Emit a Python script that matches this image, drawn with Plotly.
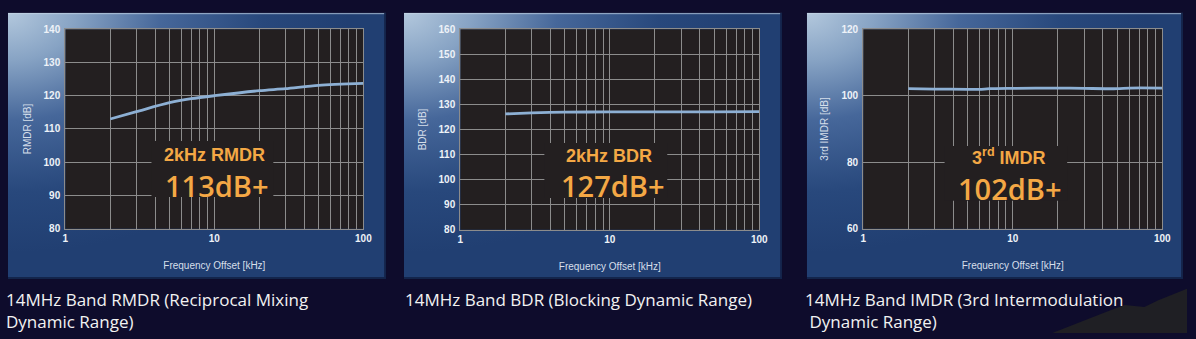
import base64
import plotly.graph_objects as go

W, H = 1196, 339

# ---------------- data ----------------
freq_rmdr = [2, 3, 5, 7, 10, 20, 30, 50, 100]
rmdr_db = [113.0, 115.2, 117.9, 119.1, 120.0, 121.5, 122.1, 123.1, 123.7]

freq_bdr = [2, 3, 5, 10, 20, 50, 100]
bdr_db = [126.2, 126.6, 126.9, 127.0, 127.0, 127.0, 127.1]

freq_imdr = [2, 3, 5, 6, 7, 10, 20, 30, 50, 60, 100]
imdr_db = [102.1, 102.0, 101.9, 101.9, 102.1, 102.2, 102.3, 102.2, 102.1, 102.3, 102.3]

y_titles = ["RMDR [dB]", "BDR [dB]", "3rd IMDR [dB]"]
x_title = "Frequency Offset [kHz]"
y_ranges = [[80, 140], [80, 160], [60, 120]]
y_dticks = [10, 10, 20]
badge_top = ["2kHz RMDR", "2kHz BDR", "3<sup>rd</sup> IMDR"]
badge_big = ["113dB+", "127dB+", "102dB+"]
captions = [
    "14MHz Band RMDR (Reciprocal Mixing<br>Dynamic Range)",
    "14MHz Band BDR (Blocking Dynamic Range)",
    "14MHz Band IMDR (3rd Intermodulation<br> Dynamic Range)",
]
x_tickvals = [1, 10, 100]
x_minor = [2, 3, 4, 5, 6, 7, 8, 9, 20, 30, 40, 50, 60, 70, 80, 90]

# ---------------- layout geometry (pixels) ----------------
plots_px = [(63, 364, 24, 231), (462, 764, 24, 232), (869, 1171, 24, 231)]
cards_px = [(5, 387, 7, 283), (405, 787, 7, 283), (812, 1192, 7, 283)]
boxes_dom = [(0.289, 0.698, 0.159, 0.44), (0.281, 0.692, 0.159, 0.433), (0.272, 0.682, 0.14, 0.415)]
badge_px = [((214, 154), (216, 186)), ((612, 155), (616, 186)), ((1016, 156), (1017, 189))]
caption_px = [(1, 290), (404, 290), (808, 290)]


def px(x):
    return x / W


def py(y):
    return 1 - y / H


GRID = "#8c8c8c"
LINE = "#8db0d4"
PLOTBG = "#231f20"
ORANGE = "#f4a845"

card_svg = """<svg xmlns='http://www.w3.org/2000/svg' width='382' height='276' viewBox='0 0 382 276' preserveAspectRatio='none'>
<defs>
<radialGradient id='g' cx='0' cy='0' r='0.9' gradientUnits='objectBoundingBox'>
<stop offset='0' stop-color='#b3c8dd'/>
<stop offset='0.2' stop-color='#87a3c4'/>
<stop offset='0.45' stop-color='#46679a'/>
<stop offset='0.75' stop-color='#28487c'/>
<stop offset='1' stop-color='#213f72'/>
</radialGradient>
</defs>
<rect x='0' y='0' width='382' height='276' fill='url(#g)'/>
<rect x='0' y='0' width='382' height='1.5' fill='#c8d8e8' fill-opacity='0.6'/>
<rect x='380' y='0' width='2' height='276' fill='#14244a'/>
<rect x='0' y='274' width='382' height='2' fill='#14244a'/>
</svg>"""
card_uri = "data:image/svg+xml;base64," + base64.b64encode(card_svg.encode()).decode()

fig = go.Figure()

series = [(freq_rmdr, rmdr_db), (freq_bdr, bdr_db), (freq_imdr, imdr_db)]
images = []
shapes = []
annotations = []

for i, (xs, ys) in enumerate(series):
    n = "" if i == 0 else str(i + 1)
    fig.add_trace(go.Scatter(
        x=xs, y=ys, mode="lines", xaxis="x" + n, yaxis="y" + n,
        line=dict(color=LINE, width=2.8, shape="spline", smoothing=0.8),
        hoverinfo="x+y", showlegend=False,
    ))
    x0, x1, y0, y1 = plots_px[i]
    axis_common = dict(showgrid=True, gridcolor=GRID, gridwidth=1.3,
                       showline=True, linecolor=GRID, linewidth=1.3, mirror=True,
                       zeroline=False, ticks="", fixedrange=True)
    fig.update_layout(**{
        "xaxis" + n: dict(
            type="log", range=[0, 2], domain=[px(x0), px(x1)],
            anchor="y" + n, tickvals=x_tickvals, ticktext=["1", "10", "100"],
            minor=dict(tickvals=x_minor, showgrid=True, gridcolor=GRID, gridwidth=1.3, ticks=""),
            tickfont=dict(family="Liberation Sans", size=10, color="#eef2f8", weight="bold"),
            title=dict(text=x_title, standoff=19,
                       font=dict(family="Liberation Sans", size=10, color="#d6dfea")),
            **axis_common),
        "yaxis" + n: dict(
            range=y_ranges[i], dtick=y_dticks[i], domain=[py(y1), py(y0)],
            anchor="x" + n, ticklabelstandoff=2,
            tickfont=dict(family="Liberation Sans", size=10, color="#eef2f8", weight="bold"),
            title=dict(text=y_titles[i], standoff=10,
                       font=dict(family="Liberation Sans", size=10, color="#d6dfea")),
            **axis_common),
    })
    cx0, cx1, cy0, cy1 = cards_px[i]
    images.append(dict(source=card_uri, xref="paper", yref="paper",
                       x=px(cx0), y=py(cy0), sizex=px(cx1) - px(cx0), sizey=py(cy0) - py(cy1),
                       xanchor="left", yanchor="top", sizing="stretch", layer="below"))
    # plot area background (drawn above the card image)
    shapes.append(dict(type="rect", xref="x" + n + " domain", yref="y" + n + " domain",
                       x0=0, x1=1, y0=0, y1=1, fillcolor=PLOTBG,
                       line=dict(width=0), layer="below"))
    bx0, bx1, by0, by1 = boxes_dom[i]
    shapes.append(dict(type="rect", xref="x" + n + " domain", yref="y" + n + " domain",
                       x0=bx0, x1=bx1, y0=by0, y1=by1, fillcolor=PLOTBG,
                       line=dict(width=0), layer="above"))
    (tx, ty), (bgx, bgy) = badge_px[i]
    annotations.append(dict(text=badge_top[i], xref="paper", yref="paper",
                            x=px(tx), y=py(ty), showarrow=False,
                            xanchor="center", yanchor="middle",
                            font=dict(family="Liberation Sans", size=18, color=ORANGE, weight="bold")))
    annotations.append(dict(text=badge_big[i], xref="paper", yref="paper",
                            x=px(bgx), y=py(bgy), showarrow=False,
                            xanchor="center", yanchor="middle",
                            font=dict(family="Open Sans", size=29, color=ORANGE, weight=600)))
    capx, capy = caption_px[i]
    annotations.append(dict(text=captions[i], xref="paper", yref="paper",
                            x=px(capx), y=py(capy), showarrow=False,
                            xanchor="left", yanchor="top", align="left",
                            font=dict(family="Open Sans", size=17, color="#f2f2f2")))

# rock silhouette bottom-right
rock = [(1060, 339), (1100, 323), (1120, 315), (1133, 310), (1153, 312), (1167, 305), (1196, 293), (1196, 339)]
path = "M " + " L ".join(f"{px(a):.4f},{py(b):.4f}" for a, b in rock) + " Z"
shapes.append(dict(type="path", xref="paper", yref="paper", path=path,
                   fillcolor="#1f1f24", line=dict(width=0), layer="below"))

fig.update_layout(
    width=W, height=H, margin=dict(l=0, r=0, t=0, b=0),
    paper_bgcolor="#0e0c2c", plot_bgcolor=PLOTBG,
    images=images, shapes=shapes, annotations=annotations,
    showlegend=False,
)

fig.write_html("out.html", config={"displayModeBar": False})
